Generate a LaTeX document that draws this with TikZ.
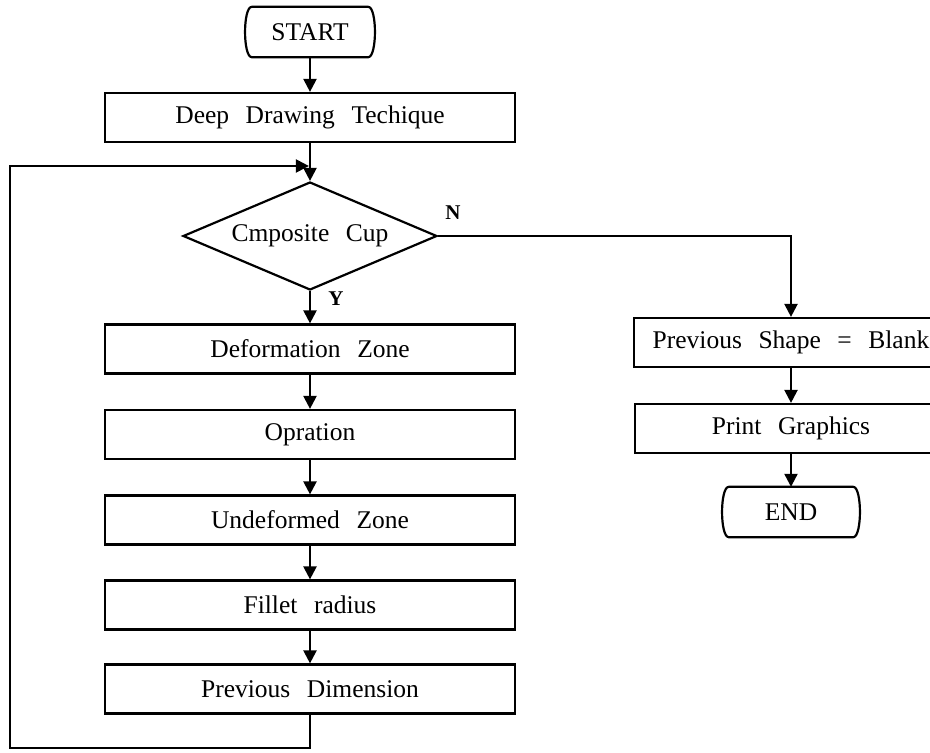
\documentclass[tikz,border=0pt]{standalone}
\usepackage{fontspec}
\setmainfont{Liberation Serif}[WordSpace=2.6]
\usetikzlibrary{arrows.meta,shapes.geometric}
\begin{document}
\begin{tikzpicture}[x=1pt,y=-1pt,
  lw/.style={line width=2.2pt},
  txt/.style={font=\fontsize{25.5}{30}\selectfont},
  box/.style={draw, lw, rectangle, minimum height=49pt, inner sep=0pt, txt},
  arr/.style={lw, -{Triangle[width=13pt,length=13pt]}},
  term/.style={rectangle, minimum height=50pt, inner sep=0pt, txt},
  termline/.style={lw, line join=round},
  dec/.style={draw, lw, diamond, aspect=2.35, minimum width=254pt, minimum height=108pt, inner sep=0pt, txt},
  lbl/.style={font=\fontsize{21}{24}\selectfont\bfseries}
]
\useasboundingbox (0,0) rectangle (930,753);

% terminals
\node[term, minimum width=128pt] (start) at (310,32) {START};
\draw[termline] ([xshift=6pt]start.north west) -- ([xshift=-6pt]start.north east)
  .. controls ([xshift=3pt]start.north east) and ([xshift=3pt]start.south east) .. ([xshift=-6pt]start.south east)
  -- ([xshift=6pt]start.south west)
  .. controls ([xshift=-3pt]start.south west) and ([xshift=-3pt]start.north west) .. cycle;

\node[term, minimum width=136pt] (end) at (791,512) {END};
\draw[termline] ([xshift=6pt]end.north west) -- ([xshift=-6pt]end.north east)
  .. controls ([xshift=3pt]end.north east) and ([xshift=3pt]end.south east) .. ([xshift=-6pt]end.south east)
  -- ([xshift=6pt]end.south west)
  .. controls ([xshift=-3pt]end.south west) and ([xshift=-3pt]end.north west) .. cycle;

% left column
\node[box, minimum width=410pt] (deep) at (310,117.5) {Deep Drawing Techique};
\node[dec] (dec) at (310,236) {Cmposite Cup};
\node[box, minimum width=410pt] (defz) at (310,349) {Deformation Zone};
\node[box, minimum width=410pt] (opr) at (310,434.5) {Opration};
\node[box, minimum width=410pt] (undz) at (310,520) {Undeformed Zone};
\node[box, minimum width=410pt] (fil) at (310,605) {Fillet radius};
\node[box, minimum width=410pt] (pdim) at (310,689) {Previous Dimension};

% right column
\node[box, minimum width=314pt] (pshape) at (791,342.5) {Previous Shape = Blank};
\node[box, minimum width=312pt] (print) at (791,428.5) {Print Graphics};

% labels
\node[lbl] (nlab) at (453,213) {N};
\node[lbl] (ylab) at (336,299) {Y};

% connectors
\draw[arr] (start.south) -- (deep.north);
\draw[arr] (deep.south) -- (dec.north);
\draw[arr] (dec.south) -- (defz.north);
\draw[arr] (defz.south) -- (opr.north);
\draw[arr] (opr.south) -- (undz.north);
\draw[arr] (undz.south) -- (fil.north);
\draw[arr] (fil.south) -- (pdim.north);

\coordinate (j) at (308.9,166);
\coordinate (lb) at (10,748);
\coordinate (lt) at (10,166);
\draw[arr, line join=miter] (pdim.south) |- (lb) -- (lt) -- (j);

\draw[arr] (dec.east) -| (pshape.north);
\draw[arr] (pshape.south) -- (print.north);
\draw[arr] (print.south) -- (end.north);
\end{tikzpicture}
\end{document}
